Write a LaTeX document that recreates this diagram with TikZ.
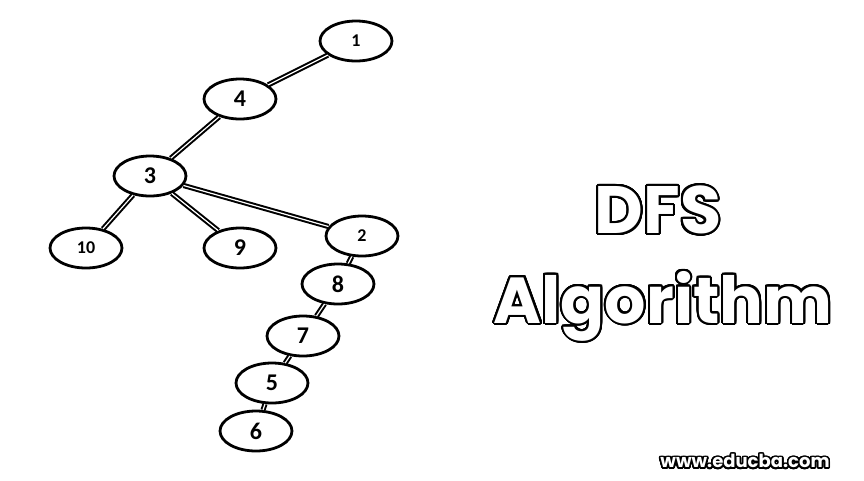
\documentclass[tikz,border=0pt]{standalone}
\usepackage{fontspec}
\setmainfont{Carlito}
\newfontfamily\titlefont{Poppins}[BoldFont={* Bold}]
\usepackage{contour}
\contournumber{32}
\contourlength{2pt}
\usetikzlibrary{shapes.geometric}
\tikzset{
  vert/.style={ellipse, draw=black, line width=2.8pt, fill=white, minimum width=72pt, minimum height=40pt, inner sep=0pt, font=\bfseries\fontsize{24}{24}\selectfont},
  smallnum/.style={font=\bfseries\fontsize{18}{18}\selectfont},
  edge/.style={draw=black, line width=2pt, double=white, double distance=1.2pt}
}
\begin{document}
\begin{tikzpicture}[x=1pt,y=-1pt]
\useasboundingbox[fill=white] (0,0) rectangle (864,480);
\node[vert,smallnum] (n1) at (356,41) {1};
\node[vert] (n4) at (240,99) {4};
\node[vert] (n3) at (150,176) {3};
\node[vert,smallnum] (n10) at (86,248) {10};
\node[vert] (n9) at (240,248) {9};
\node[vert,smallnum] (n2) at (362,236) {2};
\node[vert] (n8) at (338,284) {8};
\node[vert] (n7) at (303,336) {7};
\node[vert] (n5) at (272,383) {5};
\node[vert] (n6) at (256,431) {6};
\draw[edge] (n1) -- (n4);
\draw[edge] (n4) -- (n3);
\draw[edge] (n3) -- (n10);
\draw[edge] (n3) -- (n9);
\draw[edge] (n3) -- (n2);
\draw[edge] (n2) -- (n8);
\draw[edge] (n8) -- (n7);
\draw[edge] (n7) -- (n5);
\draw[edge] (n5) -- (n6);
\node (t1) at (658,211) {\titlefont\bfseries\fontsize{67}{67}\selectfont\contour{black}{\textcolor{white}{DFS}}};
\node (t2) at (663,307) {\titlefont\bfseries\fontsize{65}{65}\selectfont\contour{black}{\textcolor{white}{Algorithm}}};
\node (wm) at (745,462) {\titlefont\bfseries\fontsize{18}{18}\selectfont\contourlength{1.6pt}\contour{black}{\textcolor{white}{www.educba.com}}};
\end{tikzpicture}
\end{document}
